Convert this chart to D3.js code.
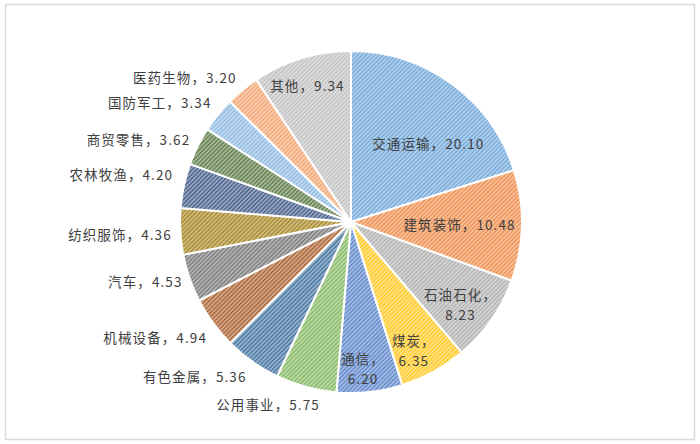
<!DOCTYPE html>
<html>
<head>
<meta charset="utf-8">
<script src="https://cdn.jsdelivr.net/npm/d3@7"></script>
<style>
html,body{margin:0;padding:0;background:#fff;}
svg{display:block;}
text{font-family:"Noto Sans CJK SC","Noto Sans",sans-serif;}
</style>
</head>
<body>
<div id="chart"></div>
<script>
// ---- data ----
const categories = ["交通运输","建筑装饰","石油石化","煤炭","通信","公用事业","有色金属","机械设备","汽车","纺织服饰","农林牧渔","商贸零售","国防军工","医药生物","其他"];
const values = [20.10,10.48,8.23,6.35,6.20,5.75,5.36,4.94,4.53,4.36,4.20,3.62,3.34,3.20,9.34];

// ---- styles / layout (not data) ----
const colors = ["#5B9BD5","#ED7D31","#A5A5A5","#FFC000","#4472C4","#70AD47","#255E91","#9E480E","#636363","#997300","#264478","#43682B","#7CAFDD","#F1975A","#B7B7B7"];
// label placement: inside labels use radius fraction; outside labels sit just past the rim
const labelInside = [true,true,true,true,true,false,false,false,false,false,false,false,false,false,true];
const labelTwoLines = [false,false,true,true,true,false,false,false,false,false,false,false,false,false,false];
const labelRadius = [0.647,0.635,0.795,0.834,0.86,0,0,0,0,0,0,0,0,0,0.84];
const labelNudge = [[12,10],[0,0],[-2,4],[-6,3],[-4,0],[15,0],[-1.5,0],[0.5,3],[1,-3],[0,1.5],[-2.5,-8],[0,1],[0,-1],[-1,1],[-2,0]];

const W = 700, H = 444;
const cx = 351, cy = 222, R = 171;
const lineGap = 19.8;

const svg = d3.select("#chart").append("svg").attr("width", W).attr("height", H);
svg.append("rect").attr("x", 0).attr("y", 0).attr("width", W).attr("height", H).attr("fill", "#fff");
svg.append("rect").attr("x", 5.5).attr("y", 4.5).attr("width", 689).attr("height", 435)
  .attr("fill", "#fff").attr("stroke", "#d9d9d9").attr("stroke-width", 1.5);

const defs = svg.append("defs");
colors.forEach((c, i) => {
  const bg = d3.interpolateRgb(c, "#ffffff")(0.58);
  const fg = d3.interpolateRgb(c, "#ffffff")(0.12);
  const p = defs.append("pattern").attr("id", "pat" + i)
    .attr("patternUnits", "userSpaceOnUse").attr("width", 3).attr("height", 3)
    .attr("patternTransform", "rotate(45)");
  p.append("rect").attr("width", 3).attr("height", 3).attr("fill", bg);
  p.append("rect").attr("x", 0).attr("y", 0).attr("width", 1.4).attr("height", 3).attr("fill", fg);
});

const data = categories.map((c, i) => ({name: c, value: values[i], i}));
const pie = d3.pie().sort(null).value(d => d.value).startAngle(0).endAngle(2 * Math.PI);
const arcs = pie(data);
const arc = d3.arc().innerRadius(0).outerRadius(R);

const g = svg.append("g").attr("transform", `translate(${cx},${cy})`);
g.selectAll("path.slice").data(arcs).enter().append("path")
  .attr("class", "slice")
  .attr("d", arc)
  .attr("fill", d => `url(#pat${d.data.i})`)
  .attr("stroke", "#fff").attr("stroke-width", 2).attr("stroke-linejoin", "round");

const fmt = d3.format(".2f");
const labelG = g.append("g").attr("fill", "#404040").attr("font-size", "13.5px").attr("letter-spacing", "1.1px");

arcs.forEach(d => {
  const i = d.data.i;
  const mid = (d.startAngle + d.endAngle) / 2;
  const sx = Math.sin(mid), sy = -Math.cos(mid);
  const txt1 = d.data.name + "，";
  const txt2 = fmt(d.data.value);
  if (labelInside[i]) {
    const r = labelRadius[i] * R;
    const x = sx * r + labelNudge[i][0];
    const y = sy * r + labelNudge[i][1];
    if (labelTwoLines[i]) {
      labelG.append("text").attr("text-anchor", "middle").attr("dominant-baseline", "central")
        .attr("x", x).attr("y", y - lineGap / 2).text(txt1);
      labelG.append("text").attr("text-anchor", "middle").attr("dominant-baseline", "central")
        .attr("x", x).attr("y", y + lineGap / 2).text(txt2);
    } else {
      labelG.append("text").attr("text-anchor", "middle").attr("dominant-baseline", "central")
        .attr("x", x).attr("y", y).text(txt1 + txt2);
    }
  } else {
    const r = R + 10;
    const x = sx * r + 1.5 + labelNudge[i][0];
    const y = sy * r + sy * 8 + labelNudge[i][1];
    labelG.append("text").attr("text-anchor", "end").attr("dominant-baseline", "central")
      .attr("x", x).attr("y", y).text(txt1 + txt2);
  }
});
</script>
</body>
</html>
